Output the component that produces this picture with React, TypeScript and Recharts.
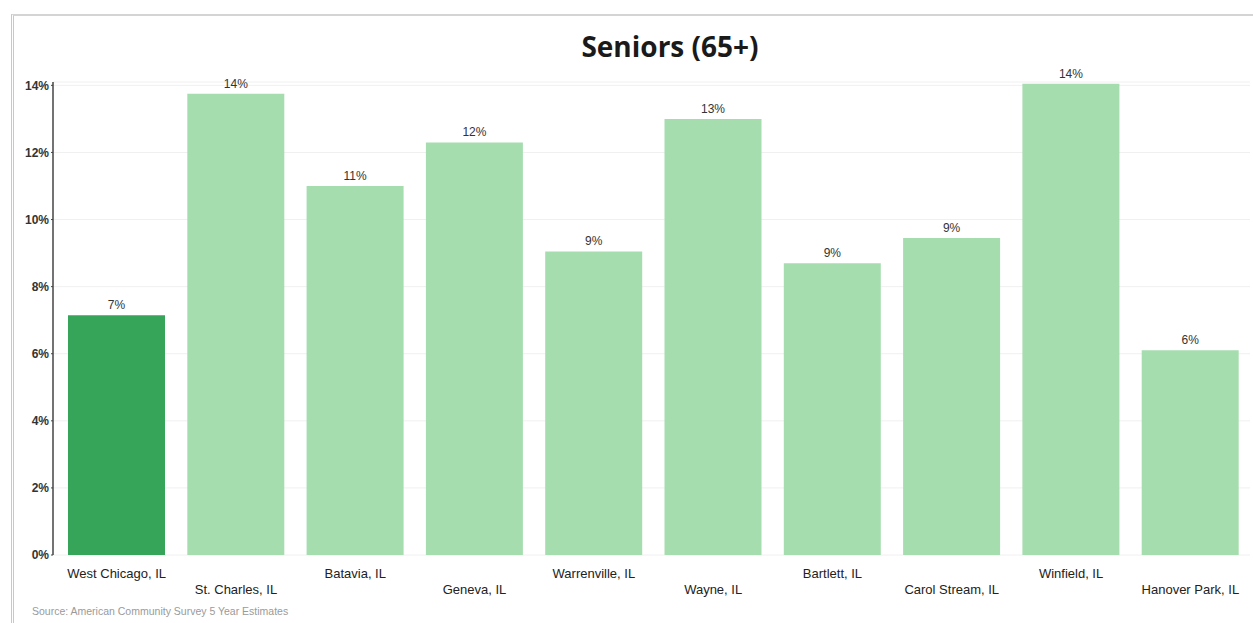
import React from 'react';
import { BarChart, Bar, XAxis, YAxis, CartesianGrid, LabelList, Cell } from 'recharts';

const cities = [
  'West Chicago, IL',
  'St. Charles, IL',
  'Batavia, IL',
  'Geneva, IL',
  'Warrenville, IL',
  'Wayne, IL',
  'Bartlett, IL',
  'Carol Stream, IL',
  'Winfield, IL',
  'Hanover Park, IL',
];
const seniorShare = [7.15, 13.75, 11.0, 12.3, 9.05, 13.0, 8.7, 9.45, 14.05, 6.1];
const yTicks = [0, 2, 4, 6, 8, 10, 12, 14];
const highlightCity = 'West Chicago, IL';

const darkGreen = '#36a55a';
const lightGreen = '#a6ddaf';
const axisFont = 'Arial, "Liberation Sans", sans-serif';

const data = cities.map((city, i) => ({ city, value: seniorShare[i] }));

function CityTick(props: any) {
  const { x, y, payload, index } = props;
  return (
    <text
      x={x}
      y={y + (index % 2 === 0 ? 23 : 39)}
      textAnchor="middle"
      fontSize={13}
      fontFamily={axisFont}
      fill="#222"
    >
      {payload.value}
    </text>
  );
}

export default function App() {
  return (
    <div
      style={{
        position: 'absolute',
        left: 0,
        top: 0,
        width: 1253,
        height: 623,
        background: '#fff',
        overflow: 'hidden',
      }}
    >
      <div
        style={{
          position: 'absolute',
          left: 11,
          top: 14,
          width: 1260,
          height: 640,
          borderLeft: '3px double #c8c8c8',
          borderTop: '2px solid #d4d4d4',
        }}
      />
      <div
        style={{
          position: 'absolute',
          left: 0,
          top: 27,
          width: 1340,
          textAlign: 'center',
          fontFamily: '"Open Sans", sans-serif',
          fontWeight: 700,
          fontSize: 28,
          color: '#1a1a1a',
        }}
      >
        Seniors (65+)
      </div>
      <BarChart
        width={1253}
        height={623}
        data={data}
        margin={{ top: 82, right: 3, left: 0, bottom: 38 }}
        style={{ position: 'absolute', left: 0, top: 0 }}
      >
        <CartesianGrid vertical={false} stroke="#f0f0f0" />
        <XAxis
          dataKey="city"
          height={30}
          interval={0}
          tickLine={false}
          axisLine={false}
          tickSize={0}
          tickMargin={0}
          padding={{ left: 4, right: 0 }}
          tick={<CityTick />}
        />
        <YAxis
          width={53}
          domain={[0, 14.1]}
          ticks={yTicks}
          tickFormatter={(v) => `${v}%`}
          axisLine={{ stroke: '#444', strokeWidth: 1.5 }}
          tickLine={{ stroke: '#444' }}
          tickSize={2}
          tickMargin={2}
          tick={{ fontSize: 12, fontFamily: axisFont, fill: '#333', fontWeight: 700 }}
        />
        <Bar dataKey="value" barSize={97} isAnimationActive={false}>
          {data.map((d) => (
            <Cell key={d.city} fill={d.city === highlightCity ? darkGreen : lightGreen} />
          ))}
          <LabelList
            dataKey="value"
            position="top"
            offset={6}
            formatter={(v: any) => `${Math.round(Number(v))}%`}
            style={{ fontSize: 12, fontFamily: axisFont, fill: '#333' }}
          />
        </Bar>
      </BarChart>
      <div
        style={{
          position: 'absolute',
          left: 32,
          top: 605,
          fontFamily: axisFont,
          fontSize: 10.5,
          color: '#9a9a9a',
        }}
      >
        Source: American Community Survey 5 Year Estimates
      </div>
    </div>
  );
}
